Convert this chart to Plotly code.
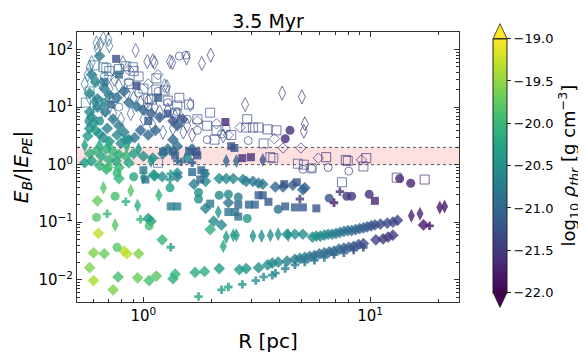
import plotly.graph_objects as go

# ---- data (R [pc], E_B/|E_PE|, log10 rho_thr) ----
# filled diamonds
fd_R = [0.627, 0.633, 0.602, 0.672, 0.579, 0.602, 0.735, 0.773, 0.820, 0.845, 0.952, 0.942, 1.06, 1.14, 1.21,
        1.35, 1.38, 1.69, 1.86, 2.16, 1.08, 1.05, 0.686, 1.12, 1.41, 1.88, 2.16, 2.32, 2.49, 2.75, 2.84, 3.04,
        3.22, 3.36, 3.82, 4.13, 4.56, 5.15, 5.05, 1.88, 2.37, 2.04, 2.21, 1.97,
        0.579, 0.621, 0.653, 0.686, 0.735, 0.780, 0.836, 0.707, 0.758, 0.591, 0.906, 1.00, 1.10, 1.22, 1.28,
        1.41, 1.64, 0.551, 0.862, 0.640, 0.780, 0.780, 1.11, 1.21, 1.41, 1.67,
        0.579, 0.591, 0.602, 0.579, 0.615, 0.568, 0.640, 0.666, 0.692, 0.735, 0.627, 0.679, 0.780, 0.765, 0.820,
        0.862, 0.915, 0.971, 1.05, 1.13, 1.35, 0.707, 0.796, 0.640, 0.591, 0.615, 0.672, 0.707, 0.765, 0.820,
        0.862, 0.933, 1.00, 1.08, 1.18, 1.35, 1.41, 1.49, 0.579, 0.627,
        4.30, 4.66, 5.05, 5.57, 5.79, 6.03, 6.28, 6.53, 6.80, 7.07, 7.36, 7.66, 7.97, 8.29, 8.63, 8.98, 9.34,
        9.71, 10.1, 10.5, 11.1, 11.9, 12.6, 13.2,
        2.65, 2.84, 3.22, 3.53, 3.70, 3.93, 4.30, 4.66, 4.90, 5.15, 5.41, 5.68, 5.97, 6.28, 6.60, 6.93, 7.29,
        7.66, 8.05, 8.46, 8.89, 9.34, 10.6, 11.4, 12.0, 12.6, 17.2]
fd_E = [0.235, 0.0641, 0.0293, 0.0283, 0.0162, 0.00966, 0.00669, 0.0112, 0.0316, 0.0283, 0.0283, 0.0108,
        0.00966, 0.0116, 0.0494, 0.0104, 0.0125, 0.0134, 0.0139, 0.0156, 0.104, 0.116, 0.831, 0.640, 0.716,
        0.513, 0.573, 0.573, 0.573, 0.552, 0.513, 0.513, 0.476, 0.459, 0.411, 0.411, 0.442, 0.396, 0.367,
        0.174, 0.218, 0.104, 0.0896, 0.0743,
        1.56, 1.75, 1.40, 1.88, 1.68, 1.50, 1.40, 1.21, 1.16, 1.16, 1.56, 1.40, 1.30, 1.56, 1.88, 2.10, 1.88,
        1.08, 1.08, 0.967, 0.895, 0.573, 0.665, 0.617, 0.617, 0.459,
        8.30, 6.65, 5.32, 4.26, 3.95, 3.16, 3.41, 2.94, 4.26, 6.17, 10.0, 8.30, 4.76, 3.28, 3.67, 2.72, 2.94,
        3.95, 3.28, 3.95, 2.72, 2.53, 2.34, 77.1, 36.7, 27.3, 21.0, 16.3, 14.5, 18.8, 12.0, 10.3, 8.95, 7.71,
        6.65, 5.73, 4.76, 6.17, 17.5, 14.0,
        0.0618, 0.0618, 0.0618, 0.0552, 0.0573, 0.0573, 0.0595, 0.0618, 0.0618, 0.0641, 0.0665, 0.0690,
        0.0716, 0.0716, 0.0743, 0.0771, 0.0800, 0.0831, 0.0863, 0.0896, 0.0929, 0.0964, 0.100, 0.108,
        0.0150, 0.0156, 0.0162, 0.0181, 0.0195, 0.0202, 0.0210, 0.0227, 0.0235, 0.0244, 0.0254, 0.0263,
        0.0283, 0.0293, 0.0305, 0.0316, 0.0341, 0.0354, 0.0367, 0.0381, 0.0410, 0.0425, 0.0494, 0.0513,
        0.0552, 0.0595, 0.0896]
fd_rho = [-19.7, -19.3, -19.6, -19.7, -19.6, -19.4, -19.6, -19.9, -19.3, -19.3, -19.6, -19.7, -19.9, -19.8,
          -20.0, -20.1, -20.0, -20.1, -20.1, -20.3, -20.3, -20.4, -20.0, -20.4, -20.5, -20.6, -20.6, -20.6,
          -20.6, -20.7, -20.7, -20.8, -20.8, -20.8, -21.0, -21.0, -21.1, -21.1, -21.0, -20.7, -20.9, -20.6,
          -20.6, -20.1,
          -20.1, -20.0, -20.2, -20.1, -20.0, -20.1, -20.0, -20.1, -20.2, -20.3, -20.3, -20.5, -20.5, -20.6,
          -20.8, -20.9, -21.0, -20.3, -20.2, -20.1, -20.0, -20.0, -20.4, -20.5, -20.7, -20.7,
          -20.6, -20.6, -20.5, -20.5, -20.4, -20.4, -20.5, -20.6, -20.7, -20.8, -20.7, -20.8, -20.8, -20.6,
          -20.7, -20.7, -20.8, -21.0, -21.0, -21.0, -21.0, -20.5, -20.6, -20.8, -20.7, -20.6, -20.7, -20.8,
          -20.9, -21.0, -20.9, -20.9, -21.0, -21.1, -21.1, -21.2, -21.1, -21.2, -20.6, -20.7,
          -20.5, -20.5, -20.5, -20.5, -20.5, -20.6, -20.6, -20.6, -20.7, -20.7, -20.8, -20.8, -20.9, -20.9,
          -21.0, -21.0, -21.1, -21.1, -21.2, -21.2, -21.3, -21.3, -21.3, -21.4,
          -20.4, -20.4, -20.5, -20.5, -20.6, -20.6, -20.7, -20.7, -20.8, -20.8, -20.8, -20.9, -20.9, -20.9,
          -21.0, -21.0, -21.0, -21.1, -21.1, -21.2, -21.2, -21.3, -21.4, -21.5, -21.5, -21.5, -21.8]

# thin filled diamonds
td_R = [0.666, 0.750, 0.879, 1.17, 1.00, 2.25, 2.14, 0.942, 2.32, 2.49, 2.57, 3.04, 3.32, 3.63, 3.93, 4.35,
        15.2, 16.6, 20.3, 21.3, 2.32, 3.36, 1.08, 2.57, 0.640, 0.707, 0.845, 0.952, 0.551, 0.568, 0.609]
td_E = [0.396, 0.0896, 0.353, 0.294, 0.595, 0.0381, 0.150, 0.195, 0.0552, 0.0595, 0.0595, 0.0573, 0.0573,
        0.0595, 0.0618, 0.0595, 0.130, 0.140, 0.181, 0.188, 1.16, 1.21, 1.16, 1.16, 2.18, 2.18, 2.10, 1.88,
        2.18, 5.73, 12.0]
td_rho = [-19.8, -19.8, -19.8, -20.0, -20.2, -20.2, -20.4, -20.1, -20.4, -20.4, -20.4, -20.5, -20.5, -20.5,
          -20.5, -20.5, -21.7, -21.7, -21.8, -21.8, -21.0, -21.2, -20.4, -21.0, -20.2, -20.1, -20.2, -20.4,
          -20.3, -20.5, -20.6]

# filled squares
fs_R = [0.758, 0.933, 0.721, 1.02, 1.78, 1.86, 3.22, 3.36, 1.32, 1.41, 2.37, 2.92, 3.10, 3.56, 1.97, 2.62,
        2.54, 2.62, 4.22, 4.66, 5.05, 5.79, 4.75, 4.18, 10.5, 2.44, 2.52, 2.73, 2.98, 2.30, 1.22, 1.35, 1.38,
        1.59, 1.71, 1.73, 1.00, 1.64, 1.80, 1.28, 1.16, 1.05, 0.780, 0.672]
fs_E = [69.0, 23.5, 11.1, 0.552, 0.552, 0.716, 0.294, 0.294, 0.188, 0.188, 0.150, 0.202, 0.202, 0.226, 0.210,
        0.202, 0.150, 0.125, 0.188, 0.181, 0.181, 0.174, 0.495, 0.459, 0.235, 2.10, 1.95, 1.30, 1.35, 5.52,
        1.68, 1.68, 1.45, 1.68, 1.68, 1.45, 0.801, 0.743, 0.801, 7.71, 14.5, 5.73, 36.7, 27.3]
fs_rho = [-21.3, -21.3, -21.1, -20.9, -21.0, -21.1, -21.1, -21.1, -20.7, -20.7, -20.9, -21.0, -21.0, -21.2,
          -20.8, -21.0, -20.9, -20.9, -21.1, -21.1, -21.2, -21.2, -21.2, -21.2, -21.7, -21.2, -21.2, -21.6,
          -21.6, -21.7, -21.0, -21.1, -21.1, -21.1, -21.2, -21.2, -20.8, -21.0, -21.0, -21.2, -21.1, -21.1,
          -21.0, -20.9]

# filled circles
fc_R = [0.750, 0.621, 1.06, 0.765, 1.31, 1.75, 1.75, 2.16, 2.37, 2.62, 2.87, 3.93, 6.60, 7.89, 8.29, 9.91,
        13.5, 15.1, 4.43, 4.22, 0.836, 0.700, 1.56, 0.640, 0.672, 0.906, 0.765]
fc_E = [0.283, 0.121, 0.0863, 0.0367, 0.396, 0.328, 0.253, 0.294, 0.305, 0.273, 0.116, 0.168, 0.262, 0.283,
        0.283, 0.305, 0.573, 0.476, 3.95, 2.82, 2.72, 0.895, 1.30, 5.73, 12.0, 0.617, 0.716]
fc_rho = [-19.9, -19.8, -19.9, -19.8, -20.3, -20.5, -20.5, -20.6, -20.6, -20.7, -20.4, -20.9, -21.2, -21.5,
          -21.5, -21.6, -21.7, -21.7, -21.6, -21.6, -20.5, -19.9, -20.6, -20.5, -20.6, -20.2, -20.0]

# filled plus
fp_R = [0.692, 0.836, 0.971, 1.32, 1.75, 1.32, 1.88, 4.90, 6.93, 7.36, 18.3, 1.41, 1.47, 1.64, 1.31, 2.21,
        2.37, 2.73, 3.13, 3.39, 3.70, 3.82, 4.22, 4.66, 5.15, 5.68, 6.28, 6.93, 7.66, 8.46, 9.34]
fp_E = [0.140, 0.227, 0.112, 0.0367, 0.0051, 0.690, 0.690, 0.253, 0.218, 0.340, 0.0863, 1.16, 1.12, 1.08,
        0.552, 0.00669, 0.00747, 0.0083, 0.00966, 0.0112, 0.0120, 0.0130, 0.0156, 0.0181, 0.0202, 0.0218,
        0.0244, 0.0273, 0.0293, 0.0328, 0.0367]
fp_rho = [-20.0, -20.1, -20.0, -20.3, -20.2, -20.4, -20.6, -21.5, -21.8, -21.6, -21.8, -21.0, -21.0, -21.1,
          -20.5, -20.3, -20.3, -20.4, -20.5, -20.5, -20.6, -20.6, -20.7, -20.8, -20.8, -20.9, -20.9, -21.0,
          -21.1, -21.2, -21.3]

# open thin diamonds
otd_R = [0.621, 0.666, 0.700, 0.707, 0.646, 0.924, 1.04, 1.10, 1.12, 1.31, 1.34, 1.55, 1.81, 1.98, 4.09, 5.00,
         2.81, 5.15, 5.10, 1.27, 0.812, 0.591, 0.579, 2.25, 1.61, 1.24, 0.568, 0.609, 0.653, 0.707, 0.743,
         0.780, 0.845, 0.906, 0.971, 1.05, 1.12, 1.18, 1.28, 1.38, 1.44, 1.56, 0.551, 0.579, 0.640, 0.679,
         0.735, 0.796, 0.879, 1.00, 1.10, 1.22, 1.35, 1.50, 1.64, 0.627]
otd_E = [130, 156, 150, 116, 125, 96.6, 61.7, 64.0, 59.5, 61.7, 59.5, 71.6, 57.3, 80.1, 17.5, 15.1, 11.1,
         5.13, 3.81, 22.6, 59.5, 59.5, 49.4, 3.16, 11.1, 23.5, 36.7, 30.5, 25.3, 21.0, 30.5, 23.5, 17.5, 14.5,
         12.0, 13.0, 10.0, 8.30, 8.95, 6.90, 5.73, 4.76, 25.3, 14.5, 12.0, 8.95, 7.71, 6.17, 7.71, 6.17, 4.76,
         3.67, 4.26, 3.67, 3.28, 104]
otd_rho = [-21.0, -21.0, -21.1, -21.0, -21.1, -21.3, -21.4, -21.3, -21.4, -21.4, -21.4, -21.5, -21.5, -21.6,
           -21.6, -21.7, -21.4, -21.7, -21.7, -21.2, -21.2, -20.9, -20.9, -21.3, -21.2, -21.2, -20.9, -21.0,
           -21.0, -21.1, -21.1, -21.2, -21.2, -21.1, -21.2, -21.3, -21.3, -21.3, -21.3, -21.2, -21.3, -21.3,
           -20.9, -20.9, -21.0, -21.0, -21.1, -21.1, -21.2, -21.2, -21.3, -21.2, -21.3, -21.3, -21.4, -21.0]

# open squares
os_R = [0.666, 0.686, 0.707, 0.836, 0.897, 0.906, 1.14, 1.14, 1.24, 1.05, 1.09, 1.41, 1.59, 1.38, 1.97, 2.87,
        2.84, 3.04, 3.22, 3.53, 3.86, 3.39, 3.63, 3.74, 4.80, 5.10, 5.52, 6.40, 7.51, 7.81, 7.97, 9.62, 9.34,
        13.1, 17.4, 0.579, 0.609, 0.780, 0.557, 0.627, 0.743, 0.862, 1.00, 0.952, 1.28, 1.44, 1.73, 1.91,
        2.10, 2.44, 1.59, 1.16, 2.06]
os_E = [49.4, 47.6, 42.6, 51.3, 49.4, 42.6, 31.6, 20.2, 19.5, 14.0, 13.5, 10.7, 11.1, 8.00, 8.00, 6.17, 4.42,
        4.42, 4.42, 4.10, 3.95, 2.34, 1.35, 1.30, 1.04, 1.00, 0.863, 1.35, 0.495, 1.21, 1.16, 1.30, 0.931,
        0.595, 0.552, 18.8, 53.2, 45.9, 12.0, 7.71, 14.5, 25.3, 21.0, 34.1, 13.0, 14.5, 6.17, 4.76, 3.95,
        3.28, 1.30, 1.08, 2.72]
os_rho = [-21.0, -21.0, -21.1, -21.1, -21.2, -21.2, -21.3, -21.2, -21.3, -21.2, -21.3, -21.2, -21.3, -21.2,
          -21.2, -21.3, -21.3, -21.3, -21.4, -21.4, -21.4, -21.3, -21.4, -21.4, -21.3, -21.3, -21.3, -21.7,
          -21.3, -21.5, -21.5, -21.7, -21.4, -21.6, -21.7, -20.8, -20.9, -21.0, -20.9, -21.0, -21.0, -21.1,
          -21.2, -21.2, -21.3, -21.3, -21.3, -21.3, -21.3, -21.3, -21.2, -21.1, -21.3]

# open circles
oc_R = [2.32, 2.21, 2.90, 5.05, 5.52, 6.53, 8.05, 1.44, 1.54, 0.707, 0.780, 0.862, 0.952, 0.672, 1.05, 1.16,
        1.28, 1.41, 1.56, 1.73, 1.91]
oc_E = [4.26, 3.41, 2.62, 0.831, 0.863, 0.895, 0.772, 77.1, 80.1, 14.5, 10.0, 27.3, 17.5, 34.1, 10.0, 18.8,
        12.0, 8.30, 6.17, 3.95, 2.72]
oc_rho = [-21.2, -21.2, -21.3, -21.4, -21.4, -21.6, -21.5, -21.3, -21.3, -21.0, -21.0, -21.1, -21.1, -21.0,
          -21.2, -21.2, -21.2, -21.3, -21.2, -21.3, -21.3]

# open diamonds
od_R = [2.10, 2.67, 3.78, 4.13, 5.91, 9.15, 4.95, 2.37, 1.73, 1.16, 0.862, 0.707, 1.05]
od_E = [5.13, 4.42, 2.83, 1.95, 1.30, 1.21, 1.95, 3.28, 5.73, 36.7, 44.2, 34.1, 25.3]
od_rho = [-21.3, -21.4, -21.5, -21.6, -21.6, -21.7, -21.6, -21.3, -21.3, -21.2, -21.1, -21.0, -21.2]

band_lo, band_hi = 1.0, 2.0
cb_ticks = [-22.0, -21.5, -21.0, -20.5, -20.0, -19.5, -19.0]

FONT = "DejaVu Sans"


def make_trace(R, E, rho, symbol, size, is_open):
    if is_open:
        marker = dict(symbol=symbol, size=size, color=rho, coloraxis="coloraxis", opacity=0.7,
                      line=dict(width=1))
    else:
        marker = dict(symbol=symbol, size=size, color=rho, coloraxis="coloraxis", opacity=0.8,
                      line=dict(width=0))
    return go.Scatter(x=R, y=E, mode="markers", marker=marker, showlegend=False, hoverinfo="x+y")


fig = go.Figure()
# --- open symbols ---
fig.add_trace(make_trace(otd_R, otd_E, otd_rho, "diamond-tall-open", 10, True))
fig.add_trace(make_trace(os_R, os_E, os_rho, "square-open", 9, True))
fig.add_trace(make_trace(oc_R, oc_E, oc_rho, "circle-open", 8, True))
fig.add_trace(make_trace(od_R, od_E, od_rho, "diamond-open", 8, True))
# --- filled symbols ---
fig.add_trace(make_trace(fd_R, fd_E, fd_rho, "diamond", 9, False))
fig.add_trace(make_trace(td_R, td_E, td_rho, "diamond-tall", 10, False))
fig.add_trace(make_trace(fs_R, fs_E, fs_rho, "square", 8, False))
fig.add_trace(make_trace(fc_R, fc_E, fc_rho, "circle", 9, False))
fig.add_trace(make_trace(fp_R, fp_E, fp_rho, "cross", 7, False))

# --- shaded band between E_B/|E_PE| = 1 and 2 ---
fig.add_shape(type="rect", xref="paper", x0=0, x1=1, yref="y", y0=band_lo, y1=band_hi,
              fillcolor="rgba(255,0,0,0.12)", line=dict(width=0), layer="below")
for yv in (band_lo, band_hi):
    fig.add_shape(type="line", xref="paper", x0=0, x1=1, yref="y", y0=yv, y1=yv,
                  line=dict(color="#555555", width=1, dash="dot"), layer="below")

# --- colorbar extension triangles (matplotlib extend='both') ---
cb_x0, cb_x1 = 1.0895, 1.1253
cb_xc = (cb_x0 + cb_x1) / 2
fig.add_shape(type="path", xref="paper", yref="paper",
              path=f"M {cb_x0},0.976 L {cb_x1},0.976 L {cb_xc},1.031 Z",
              fillcolor="#fde725", line=dict(color="#222222", width=0.8))
fig.add_shape(type="path", xref="paper", yref="paper",
              path=f"M {cb_x0},0.0344 L {cb_x1},0.0344 L {cb_xc},-0.02 Z",
              fillcolor="#440154", line=dict(color="#222222", width=0.8))

minor_x = [0.6, 0.7, 0.8, 0.9, 2, 3, 4, 5, 6, 7, 8, 9, 20]
minor_y = [m * 10.0 ** k for k in range(-3, 3) for m in range(2, 10)]

axis_common = dict(
    type="log", showgrid=False, zeroline=False, showline=True, linecolor="#333333", linewidth=1,
    mirror="allticks", ticks="inside", ticklen=5, tickcolor="#333333",
    tickfont=dict(family=FONT, size=15, color="black"),
)

fig.update_layout(
    width=586, height=352, autosize=False,
    margin=dict(l=67, r=128, t=24, b=37),
    paper_bgcolor="white", plot_bgcolor="white",
    font=dict(family=FONT, color="black"),
    title=dict(text="3.5 Myr", x=0.5, xref="paper", xanchor="center", y=0.962, yanchor="middle",
               font=dict(family=FONT, size=19, color="black")),
    xaxis=dict(axis_common, range=[-0.293, 1.392],
               tickmode="array", tickvals=[1, 10], ticktext=["10<sup>0</sup>", "10<sup>1</sup>"],
               minor=dict(ticks="inside", ticklen=3, tickcolor="#333333", tickmode="array",
                          tickvals=minor_x, showgrid=False),
               title=dict(text="R [pc]", font=dict(family=FONT, size=20), standoff=9)),
    yaxis=dict(axis_common, range=[-2.387, 2.306],
               tickmode="array", tickvals=[0.01, 0.1, 1, 10, 100],
               ticktext=["10<sup>−2</sup>", "10<sup>−1</sup>", "10<sup>0</sup>", "10<sup>1</sup>",
                         "10<sup>2</sup>"],
               minor=dict(ticks="inside", ticklen=3, tickcolor="#333333", tickmode="array",
                          tickvals=minor_y, showgrid=False),
               title=dict(text="<i>E</i><sub><i>B</i></sub>/|<i>E</i><sub><i>PE</i></sub>|",
                          font=dict(family=FONT, size=20), standoff=4)),
    coloraxis=dict(
        colorscale="Viridis", cmin=-22, cmax=-19,
        colorbar=dict(
            x=cb_x0, xanchor="left", xpad=0, y=0.505, yanchor="middle", ypad=0,
            len=0.9416, lenmode="fraction", thickness=14,
            outlinewidth=1, outlinecolor="#222222",
            ticks="outside", ticklen=4, tickcolor="#222222",
            tickmode="array", tickvals=cb_ticks, ticktext=[f"−{abs(v):.1f}" for v in cb_ticks],
            tickfont=dict(family=FONT, size=13, color="black"),
            title=dict(text="log<sub>10</sub> <i>ρ<sub>thr</sub></i> [g cm<sup>−3</sup>]", side="right",
                       font=dict(family=FONT, size=18, color="black")),
        ),
    ),
)

fig.write_html("out.html")
